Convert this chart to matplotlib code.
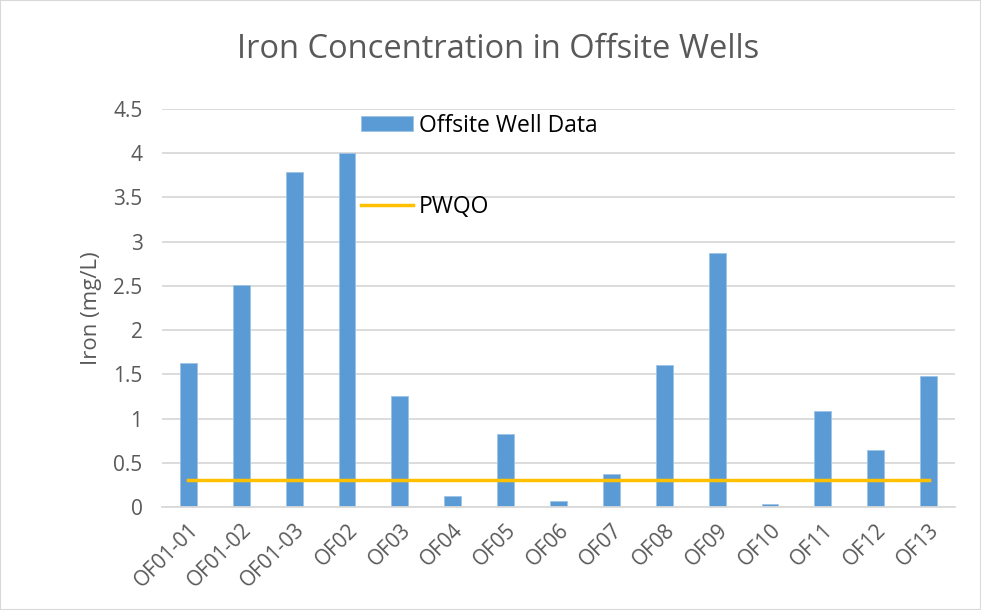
import matplotlib.pyplot as plt
import numpy as np
from matplotlib.patches import Rectangle

plt.rcParams['font.family'] = ['Open Sans', 'DejaVu Sans']

wells = ["OF01-01", "OF01-02", "OF01-03", "OF02", "OF03", "OF04", "OF05", "OF06",
         "OF07", "OF08", "OF09", "OF10", "OF11", "OF12", "OF13"]
iron = [1.63, 2.51, 3.79, 4.00, 1.26, 0.12, 0.83, 0.07, 0.37, 1.60, 2.87, 0.03, 1.09, 0.64, 1.48]
pwqo = [0.3] * len(wells)
yticks = [0, 0.5, 1, 1.5, 2, 2.5, 3, 3.5, 4, 4.5]

gray = "#595959"
fig = plt.figure(figsize=(9.81, 6.1), dpi=100)
ax = fig.add_axes([162 / 981, 1 - 507 / 610, 793 / 981, 398 / 610])

x = np.arange(len(wells))
bars = ax.bar(x, iron, width=0.32, color="#5B9BD5", edgecolor="#9DC3E6", linewidth=0.6,
              label="Offsite Well Data", zorder=2)
line, = ax.plot(x, pwqo, color="#FFC000", linewidth=2.5, label="PWQO", zorder=3)

ax.set_xlim(-0.5, len(wells) - 0.5)
ax.set_ylim(0, 4.5)
ax.set_yticks(yticks)
ax.set_yticklabels([f"{t:g}" for t in yticks])
ax.set_xticks(x)
ax.set_xticklabels(wells, rotation=45, ha="right", rotation_mode="anchor")
ax.tick_params(axis="both", length=0, labelsize=15, colors=gray)
ax.tick_params(axis="x", pad=9)
ax.tick_params(axis="y", pad=14)
ax.grid(axis="y", color="#D9D9D9", linewidth=1.3, zorder=0)
ax.set_axisbelow(True)
for s in ["top", "right", "left"]:
    ax.spines[s].set_visible(False)
ax.spines["bottom"].set_color("#D9D9D9")
ax.spines["bottom"].set_linewidth(1.3)

ax.set_ylabel("Iron (mg/L)", fontsize=16, color=gray, labelpad=8)
fig.text(498 / 981, 1 - 50 / 610, "Iron Concentration in Offsite Wells", fontsize=23.5,
         color=gray, ha="center", va="center")

leg = ax.legend([bars, line], ["Offsite Well Data", "PWQO"],
                loc="upper left", bbox_to_anchor=(0.251, 0.988), frameon=False,
                fontsize=16.5, labelspacing=2.5, handlelength=2.27, handleheight=0.6,
                handletextpad=0.25, borderpad=0, borderaxespad=0)

fig.patches.append(Rectangle((0, 0), 1, 1, transform=fig.transFigure, fill=False,
                             edgecolor="#D9D9D9", linewidth=1.5))

plt.savefig("out.png", dpi=100)
